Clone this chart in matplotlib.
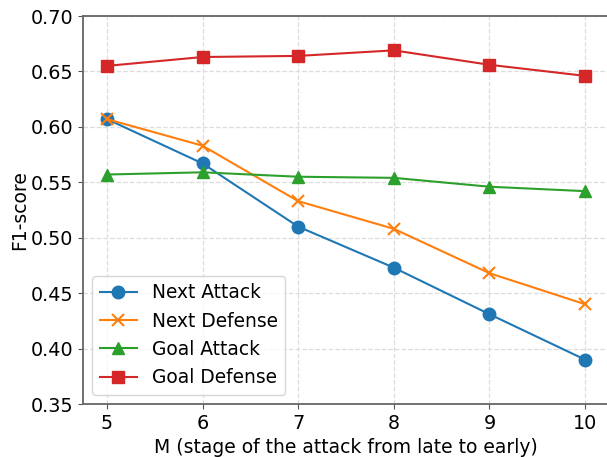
import matplotlib
matplotlib.use("Agg")
import matplotlib.pyplot as plt

M = [5, 6, 7, 8, 9, 10]
next_attack = [0.607, 0.567, 0.510, 0.473, 0.431, 0.390]
next_defense = [0.607, 0.583, 0.533, 0.508, 0.468, 0.440]
goal_attack = [0.557, 0.559, 0.555, 0.554, 0.546, 0.542]
goal_defense = [0.655, 0.663, 0.664, 0.669, 0.656, 0.646]
yticks = [0.35, 0.40, 0.45, 0.50, 0.55, 0.60, 0.65, 0.70]

fig = plt.figure(figsize=(6.07, 4.57), dpi=100)
ax = fig.add_axes([83/607, 53/457, 526/607, 388/457])

ax.plot(M, next_attack, marker='o', color='#1f77b4', markersize=9, lw=1.5, label='Next Attack')
ax.plot(M, next_defense, marker='x', color='#ff7f0e', markersize=9, lw=1.5, mew=1.5, label='Next Defense')
ax.plot(M, goal_attack, marker='^', color='#2ca02c', markersize=9, lw=1.5, label='Goal Attack')
ax.plot(M, goal_defense, marker='s', color='#d62728', markersize=8.5, lw=1.5, label='Goal Defense')

ax.set_ylim(0.35, 0.70)
ax.set_xlim(4.75, 10.25)
ax.set_yticks(yticks)
ax.set_yticklabels([f"{v:.2f}" for v in yticks])
ax.set_xticks(M)
ax.tick_params(labelsize=13.8, color='#555555')
ax.grid(True, linestyle='--', color='#dddddd', linewidth=0.9)
for s in ax.spines.values():
    s.set_color('#666666')
    s.set_linewidth(1.3)
ax.set_xlabel('M (stage of the attack from late to early)', fontsize=13.5)
ax.set_ylabel('F1-score', fontsize=13.5, labelpad=1)
ax.legend(loc='lower left', fontsize=13.4, framealpha=0.8)

fig.savefig('out.png', dpi=100)
